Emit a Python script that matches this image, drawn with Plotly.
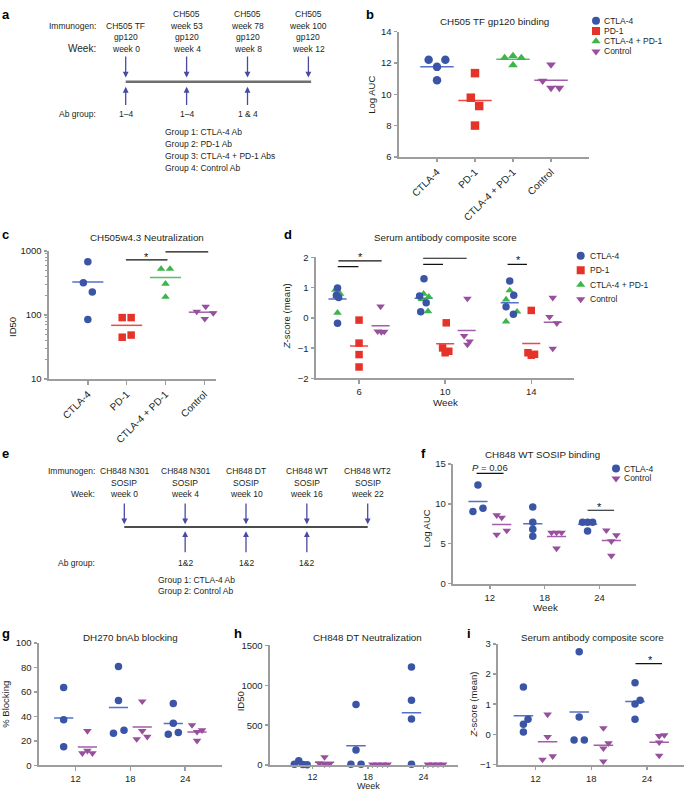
import math
import plotly.graph_objects as go

W, H = 685, 797
FONT = "Liberation Sans, Arial, Helvetica, sans-serif"
TXT = "#231f20"
AXC = "#9d9d9d"
BLUE, RED, GREEN, PURPLE = "#3a55a6", "#e6332a", "#3cb54b", "#984f9e"
BLUE_M, RED_M, GREEN_M, PURPLE_M = "#5471c6", "#ec4a46", "#52c16a", "#a35daa"
ARROW = "#4a4aa3"

# ---------------- data ----------------
# panel a (schematic)
a_immunogen_top = ["", "CH505", "CH505", "CH505"]
a_immunogen = ["CH505 TF", "week 53", "week 78", "week 100"]
a_protein = ["gp120", "gp120", "gp120", "gp120"]
a_weeks = [0, 4, 8, 12]
a_ab_group = ["1–4", "1–4", "1 & 4", ""]
a_groups = ["Group 1: CTLA-4 Ab", "Group 2: PD-1 Ab",
            "Group 3: CTLA-4 + PD-1 Abs", "Group 4: Control Ab"]

# panel e (schematic)
e_immunogen = ["CH848 N301", "CH848 N301", "CH848 DT", "CH848 WT", "CH848 WT2"]
e_protein = ["SOSIP", "SOSIP", "SOSIP", "SOSIP", "SOSIP"]
e_weeks = [0, 4, 10, 16, 22]
e_ab_group = ["", "1&2", "1&2", "1&2", ""]
e_groups = ["Group 1: CTLA-4 Ab", "Group 2: Control Ab"]

series_names = ["CTLA-4", "PD-1", "CTLA-4 + PD-1", "Control"]

# panel b: CH505 TF gp120 binding (Log AUC)
b_categories = ["CTLA-4", "PD-1", "CTLA-4 + PD-1", "Control"]
b_ctla4 = [12.2, 11.75, 12.2, 10.9]
b_pd1 = [11.35, 9.78, 9.25, 8.0]
b_combo = [12.32, 12.45, 12.32, 11.86]
b_control = [11.9, 10.86, 10.4, 10.4]

# panel c: CH505w4.3 neutralization (ID50)
c_ctla4 = [676, 318, 229, 85]
c_pd1 = [91, 91, 45, 48.6]
c_combo = [522, 522, 307, 191]
c_control = [135, 113, 107, 87]
c_sig = [(0.98, 2.05, 726), (2.0, 3.1, 966)]          # x0, x1 (category), y
c_star = [(1.52, 815), (2.62, 1040)]

# panel d: serum antibody composite score
d_weeks = [6, 10, 14]
d_ctla4 = [[0.99, 0.75, 0.68, -0.17], [1.30, 0.73, 0.50, 0.21], [1.22, 0.75, 0.37, 0.12]]
d_combo = [[0.93, 0.80, 0.72, 0.17], [0.80, 0.70, 0.62, 0.22], [0.91, 0.61, 0.21, -0.12]]
d_pd1 = [[-0.07, -0.83, -1.21, -1.62], [-0.16, -0.99, -1.10, -1.15], [0.25, -1.15, -1.23, -1.20]]
d_control = [[0.38, -0.44, -0.46, -0.45], [0.64, -0.59, -0.77, -0.88], [0.67, 0.04, -0.17, -1.01]]
d_ctla4_mean = [0.63, 0.65, 0.50]
d_pd1_mean = [-0.93, -0.85, -0.84]
d_control_mean = [-0.26, -0.41, -0.14]
d_sig = [(5.04, 7.05, 1.89), (5.01, 5.97, 1.70), (8.98, 11.0, 1.98), (8.98, 9.9, 1.77),
         (12.9, 13.8, 1.77)]
d_star = [(6.05, 2.0), (10.08, 2.12), (13.4, 1.91)]

# panels f-i: weeks 12, 18, 24
fgi_weeks = [12, 18, 24]
f_ctla4 = [[12.36, 9.03, 9.44], [9.6, 7.7, 6.8, 5.94], [7.7, 7.7, 7.7, 6.6]]
f_control = [[8.57, 8.28, 6.14, 6.64], [6.4, 6.4, 6.4, 4.4], [6.68, 6.06, 5.32, 3.5]]
f_sig = [(10.55, 13.5, 13.8), (22.7, 25.6, 9.19)]
f_star = [(24.0, 9.55)]
f_ptext = (12.07, 14.5, "<i>P</i> = 0.06")

g_ctla4 = [[63.7, 37.4, 15.3], [80.9, 53.0, 26.3, 28.8], [50.5, 34.4, 25.5, 26.9]]
g_control = [[28.2, 10.0, 12.0, 10.0], [52.4, 28.2, 21.5, 23.4], [33.0, 27.4, 28.8, 20.2]]

h_ctla4 = [[55, 10, 8, 5], [758, 190, 10, 10], [1228, 812, 577, 10]]
h_control = [[100, 20, 15, 10], [10, 10, 10, 10], [10, 10, 10, 10]]

i_ctla4 = [[1.57, 0.50, 0.34, 0.08], [2.74, 0.58, -0.18, -0.18], [1.71, 1.01, 1.13, 0.50]]
i_control = [[0.66, -0.08, -0.83, -0.72], [0.21, -0.29, -0.46, -0.89], [-0.05, -0.02, -0.26, -0.70]]
i_sig = [(22.75, 25.6, 2.34)]
i_star = [(24.36, 2.45)]

# ---------------- jitter (layout only) ----------------
b_jit = [[-1, 0, 1, 0], [0, -0.5, 0.5, 0], [-1, 0, 1, 0], [0, -1, 0, 1]]
c_jit = [[0, -1, 1, 0], [-1, 1, -1, 1], [-1, 1, 0, 0], [0.3, -1.7, 2.0, 0.1]]
d_jit_ctla4 = [[0, -0.3, 0.3, 0], [0.1, -1.1, 0.7, -0.8], [0, 1.1, -1.0, 1.0]]
d_jit_combo = [[-0.6, 0.7, -0.3, 0], [0, 1.4, -0.5, 1.2], [0, -1.0, 2.0, -1.0]]
d_jit_pd1 = [[0, 0, 0, 0], [0.3, -0.7, 1.0, 0], [0, -0.9, 0, 0.9]]
d_jit_control = [[0, -0.8, 0.2, 1.0], [0.2, -0.7, 0.8, 0.2], [0, -0.9, 1.1, 0]]
f_jit_ctla4 = [[0, -1, 1], [0, 0, 0, 0], [-1, 0, 1, 0]]
f_jit_control = [[-1, 0, -1, 1], [-1, 0, 1, 0], [-1, 1, 0, 0]]
g_jit_ctla4 = [[0, 0, 0], [0, 0, -1, 1.1], [0, 0, -1, 1]]
g_jit_control = [[0, -1, 0, 1], [0, 0, -1.1, 1], [-1, 0, 1, 0]]
h_jit_ctla4 = [[-0.35, -1.2, 0.45, 1.3], [0, 0, -1, 1], [0, 0, 0, 0]]
h_jit_control = [[0, -1, 1, 0], [-1.5, -0.5, 0.5, 1.5], [-1.5, -0.5, 0.5, 1.5]]
i_jit_ctla4 = [[0, 0.9, 0, 0], [0, 0, -1, 1], [0, 0, 1, 0]]
i_jit_control = [[0, 0, -1, 1], [0, 1, 0, 0], [0, 1, 0, 0]]

# ---------------- helpers ----------------
def xdom(p0, p1):
    return [p0 / W, p1 / W]


def ydom(top, bottom):
    return [1 - bottom / H, 1 - top / H]


lines, marks, extras = [], [], []
ann, shapes = [], []


def group(ax, center, vals, jit, jstep, sym, col, size, halfw, mcol, mean=None):
    n = "" if ax == 1 else str(ax)
    xs = [center + j * jstep for j in jit]
    if mean is None:
        mean = sum(vals) / len(vals)
    if halfw:
        lines.append(go.Scatter(x=[center - halfw, center + halfw], y=[mean, mean], mode="lines",
                                line=dict(color=mcol, width=1.5), xaxis="x" + n, yaxis="y" + n,
                                showlegend=False, hoverinfo="skip"))
    marks.append(go.Scatter(x=xs, y=vals, mode="markers", cliponaxis=False,
                            marker=dict(symbol=sym, color=col, size=size, line=dict(width=0)),
                            xaxis="x" + n, yaxis="y" + n, showlegend=False, hoverinfo="skip"))


def sig(ax, bars, stars, log=False):
    n = "" if ax == 1 else str(ax)
    for x0, x1, y in bars:
        extras.append(go.Scatter(x=[x0, x1], y=[y, y], mode="lines", line=dict(color="#111", width=1.2),
                                 xaxis="x" + n, yaxis="y" + n, showlegend=False, hoverinfo="skip",
                                 cliponaxis=False))
    for sx, sy in stars:
        ann.append(dict(x=sx, y=math.log10(sy) if log else sy, xref="x" + n, yref="y" + n, text="*",
                        showarrow=False, xanchor="center", yanchor="middle", borderpad=0,
                        font=dict(size=11, color="#111", family=FONT)))


SYM = ["circle", "square", "triangle-up", "triangle-down"]
COL = [BLUE, RED, GREEN, PURPLE]
MCOL = [BLUE_M, RED_M, GREEN_M, PURPLE_M]

# panel b
for k, vals in enumerate([b_ctla4, b_pd1, b_combo, b_control]):
    group(1, k, vals, b_jit[k], 0.22, SYM[k], COL[k], 8.5, 0.44, MCOL[k])
# panel c
for k, vals in enumerate([c_ctla4, c_pd1, c_combo, c_control]):
    group(2, k, vals, c_jit[k], 0.115, SYM[k], COL[k], 7.5, 0.4, MCOL[k])
sig(2, c_sig, c_star, log=True)
# panel d
for w, wk in enumerate(d_weeks):
    group(3, wk - 1, d_combo[w], d_jit_combo[w], 0.17, SYM[2], GREEN, 7.5, 0, GREEN_M)
    group(3, wk - 1, d_ctla4[w], d_jit_ctla4[w], 0.17, SYM[0], BLUE, 7.5, 0.42, BLUE_M, d_ctla4_mean[w])
    group(3, wk, d_pd1[w], d_jit_pd1[w], 0.17, SYM[1], RED, 7.5, 0.42, RED_M, d_pd1_mean[w])
    group(3, wk + 1, d_control[w], d_jit_control[w], 0.17, SYM[3], PURPLE, 7.5, 0.42, PURPLE_M,
          d_control_mean[w])
sig(3, d_sig, d_star)
# panels f, g, h, i
for ax, ct, cn, jc, jn in [(4, f_ctla4, f_control, f_jit_ctla4, f_jit_control),
                           (5, g_ctla4, g_control, g_jit_ctla4, g_jit_control),
                           (6, h_ctla4, h_control, h_jit_ctla4, h_jit_control),
                           (7, i_ctla4, i_control, i_jit_ctla4, i_jit_control)]:
    for w, wk in enumerate(fgi_weeks):
        group(ax, wk - 1.3, ct[w], jc[w], 0.55, "circle", BLUE, 7.5, 1.05, BLUE_M)
        group(ax, wk + 1.3, cn[w], jn[w], 0.55, "triangle-down", PURPLE, 7.5, 1.05, PURPLE_M)
sig(4, f_sig, f_star)
ann.append(dict(x=f_ptext[0], y=f_ptext[1], xref="x4", yref="y4", text=f_ptext[2], showarrow=False,
                xanchor="center", yanchor="middle", borderpad=0,
                font=dict(size=9.5, color=TXT, family=FONT)))
sig(7, i_sig, i_star)

# ---------------- overlay (pixel space) ----------------
leg_x, leg_y, leg_sym, leg_col = [], [], [], []


def txt(x, y, s, size=8.5, xanchor="center", yanchor="middle", angle=0, color=TXT):
    ann.append(dict(x=x, y=y, xref="x8", yref="y8", text=s, showarrow=False, xanchor=xanchor,
                    yanchor=yanchor, textangle=angle, borderpad=0,
                    font=dict(size=size, color=color, family=FONT)))


def arrow(x, y_tip, y_tail):
    ann.append(dict(x=x, y=y_tip, xref="x8", yref="y8", ax=0, ay=y_tail - y_tip, axref="pixel",
                    ayref="pixel", text="", showarrow=True, arrowhead=2, arrowsize=0.9,
                    arrowwidth=1.3, arrowcolor=ARROW, standoff=0))


def legend(x, y0, dy, names, syms, cols, tx):
    for k, nm in enumerate(names):
        leg_x.append(x)
        leg_y.append(y0 + k * dy)
        leg_sym.append(syms[k])
        leg_col.append(cols[k])
        txt(tx, y0 + k * dy, nm, size=8.5, xanchor="left")


# panel letters
for L, x, y in [("a", 1, 0), ("b", 365, 0), ("c", 1, 223), ("d", 283, 223), ("e", 1, 445),
                ("f", 420, 445), ("g", 1, 628), ("h", 233, 628), ("i", 466, 628)]:
    txt(x, y, "<b>%s</b>" % L, size=13, xanchor="left", yanchor="top", color="#000")

# schematic a
A_X0, A_DX = 125.7, 60.9
for i in range(len(a_weeks)):
    x = A_X0 + i * A_DX
    if a_immunogen_top[i]:
        txt(x, 8.3, a_immunogen_top[i])
    txt(x, 20, a_immunogen[i])
    txt(x, 31.7, a_protein[i])
    txt(x, 43.3, "week %d" % a_weeks[i])
    arrow(x, 72.5, 50)
    if a_ab_group[i]:
        arrow(x, 82, 101.7)
        txt(x, 110, a_ab_group[i])
txt(96.7, 20, "Immunogen:", xanchor="right")
txt(96.7, 43.3, "Week:", size=10, xanchor="right")
txt(96.7, 110, "Ab group:", xanchor="right")
for k, g in enumerate(a_groups):
    txt(164, 127.3 + 12.2 * k, g, xanchor="left")
shapes.append(dict(type="line", xref="x8", yref="y8", x0=A_X0, x1=A_X0 + 3 * A_DX + 2.7,
                   y0=76.7, y1=76.7, line=dict(color="#6f6f6f", width=2.5)))

# schematic e
E_X0, E_DX = 124.3, 60.85
for i in range(len(e_weeks)):
    x = E_X0 + i * E_DX
    txt(x, 471.7, e_immunogen[i])
    txt(x, 483.3, e_protein[i])
    txt(x, 495, "week %d" % e_weeks[i])
    arrow(x, 525.5, 503.3)
    if e_ab_group[i]:
        arrow(x, 532.5, 555)
        txt(x, 564.3, e_ab_group[i])
txt(96, 471.7, "Immunogen:", xanchor="right")
txt(96, 495, "Week:", xanchor="right")
txt(96, 564.3, "Ab group:", xanchor="right")
for k, g in enumerate(e_groups):
    txt(157.3, 581.7 + 11.6 * k, g, xanchor="left")
shapes.append(dict(type="line", xref="x8", yref="y8", x0=E_X0, x1=E_X0 + 4 * E_DX,
                   y0=528.3, y1=528.3, line=dict(color="#111", width=1.5)))

# titles
TS = 9.8
txt(494, 16, "CH505 TF gp120 binding", size=TS)
txt(146.7, 235, "CH505w4.3 Neutralization", size=TS)
txt(445.7, 235, "Serum antibody composite score", size=TS)
txt(542.3, 455, "CH848 WT SOSIP binding", size=TS)
txt(130.7, 640, "DH270 bnAb blocking", size=TS)
txt(367.3, 640, "CH848 DT Neutralization", size=TS)
txt(592.3, 640, "Serum antibody composite score", size=TS)
# y titles
txt(372, 90, "Log AUC", size=9.5, angle=-90)
txt(12.5, 326, "ID50", size=9.5, angle=-90)
txt(286.7, 315, "<i>Z</i>-score (mean)", size=9.5, angle=-90)
txt(426.7, 530, "Log AUC", size=9.5, angle=-90)
txt(5.5, 708, "% Blocking", size=9.5, angle=-90)
txt(240, 705, "ID50", size=9.5, angle=-90)
txt(473.3, 708, "<i>Z</i>-score (mean)", size=9.5, angle=-90)
# x titles
txt(445.7, 402, "Week", size=TS)
txt(545, 610, "Week", size=TS)
txt(368.3, 797, "Week", size=9, yanchor="bottom")

# legends
legend(596, 15, 10.35, series_names, SYM, COL, 603)
legend(580.7, 253.3, 14.65, series_names, SYM, COL, 589)
legend(616, 469, 10, ["CTLA-4", "Control"], ["circle", "triangle-down"], [BLUE, PURPLE], 622.7)

overlay = go.Scatter(x=leg_x, y=leg_y, mode="markers", xaxis="x8", yaxis="y8",
                     marker=dict(symbol=leg_sym, color=leg_col, size=8, line=dict(width=0)),
                     showlegend=False, hoverinfo="skip")

fig = go.Figure(lines + marks + extras + [overlay])


def axis(**kw):
    d = dict(showline=True, linecolor=AXC, linewidth=2, ticks="outside", ticklen=3.5, tickwidth=1.5,
             tickcolor=AXC, showgrid=False, zeroline=False, fixedrange=True,
             tickfont=dict(size=9.5, color=TXT, family=FONT), exponentformat="none")
    d.update(kw)
    return d


catfont = dict(size=10, color=TXT, family=FONT)
minor_vals = [v * m for m in (10, 100) for v in range(2, 10)]
fig.update_layout(
    width=W, height=H, margin=dict(l=0, r=0, t=0, b=0), paper_bgcolor="white",
    plot_bgcolor="rgba(0,0,0,0)", showlegend=False, font=dict(family=FONT, color=TXT),
    hovermode=False,
    # b
    xaxis=axis(domain=xdom(399, 589), range=[-1, 4], tickvals=[0, 1, 2, 3], ticktext=b_categories,
               tickangle=-45, tickfont=catfont, anchor="y"),
    yaxis=axis(domain=ydom(26, 153), range=[6, 14], dtick=2, anchor="x"),
    # c
    xaxis2=axis(domain=xdom(49, 216), range=[-1, 3.3], tickvals=[0, 1, 2, 3], ticktext=b_categories,
                tickangle=-45, tickfont=catfont, anchor="y2"),
    yaxis2=axis(domain=ydom(248.3, 378.3), type="log", range=[1, 3], tickvals=[10, 100, 1000],
                ticktext=["10", "100", "1000"], anchor="x2",
                minor=dict(tickmode="array", tickvals=minor_vals, ticks="outside", ticklen=2,
                           tickwidth=1, tickcolor=AXC)),
    # d
    xaxis3=axis(domain=xdom(316, 574.3), range=[4, 16], tickvals=d_weeks, anchor="y3"),
    yaxis3=axis(domain=ydom(255, 377.7), range=[-2, 2], dtick=1, anchor="x3"),
    # f
    xaxis4=axis(domain=xdom(453.3, 636), range=[8, 28], tickvals=fgi_weeks, anchor="y4"),
    yaxis4=axis(domain=ydom(464.3, 585.7), range=[0, 15], dtick=5, anchor="x4"),
    # g
    xaxis5=axis(domain=xdom(39, 221.7), range=[8, 28], tickvals=fgi_weeks, anchor="y5"),
    yaxis5=axis(domain=ydom(646, 770), range=[0, 100], dtick=20, anchor="x5"),
    # h
    xaxis6=axis(domain=xdom(270, 457.7), range=[7.4, 27.7], tickvals=fgi_weeks, anchor="y6",
                ticklen=2, tickfont=dict(size=9, color=TXT, family=FONT)),
    yaxis6=axis(domain=ydom(648.3, 769.7), range=[0, 1500], dtick=500, anchor="x6"),
    # i
    xaxis7=axis(domain=xdom(498.3, 684.3), range=[8, 28], tickvals=fgi_weeks, anchor="y7"),
    yaxis7=axis(domain=ydom(646.7, 769.3), range=[-1, 3], dtick=1, anchor="x7"),
    # overlay in pixel space
    xaxis8=dict(domain=[0, 1], range=[0, W], visible=False, fixedrange=True, anchor="y8"),
    yaxis8=dict(domain=[0, 1], range=[H, 0], visible=False, fixedrange=True, anchor="x8"),
    annotations=ann, shapes=shapes,
)

fig.write_html(
    "out.html",
    config={"displayModeBar": False, "staticPlot": True},
    post_script="document.body.style.margin='0';document.body.style.padding='0';"
                "document.documentElement.style.overflow='hidden';",
)
